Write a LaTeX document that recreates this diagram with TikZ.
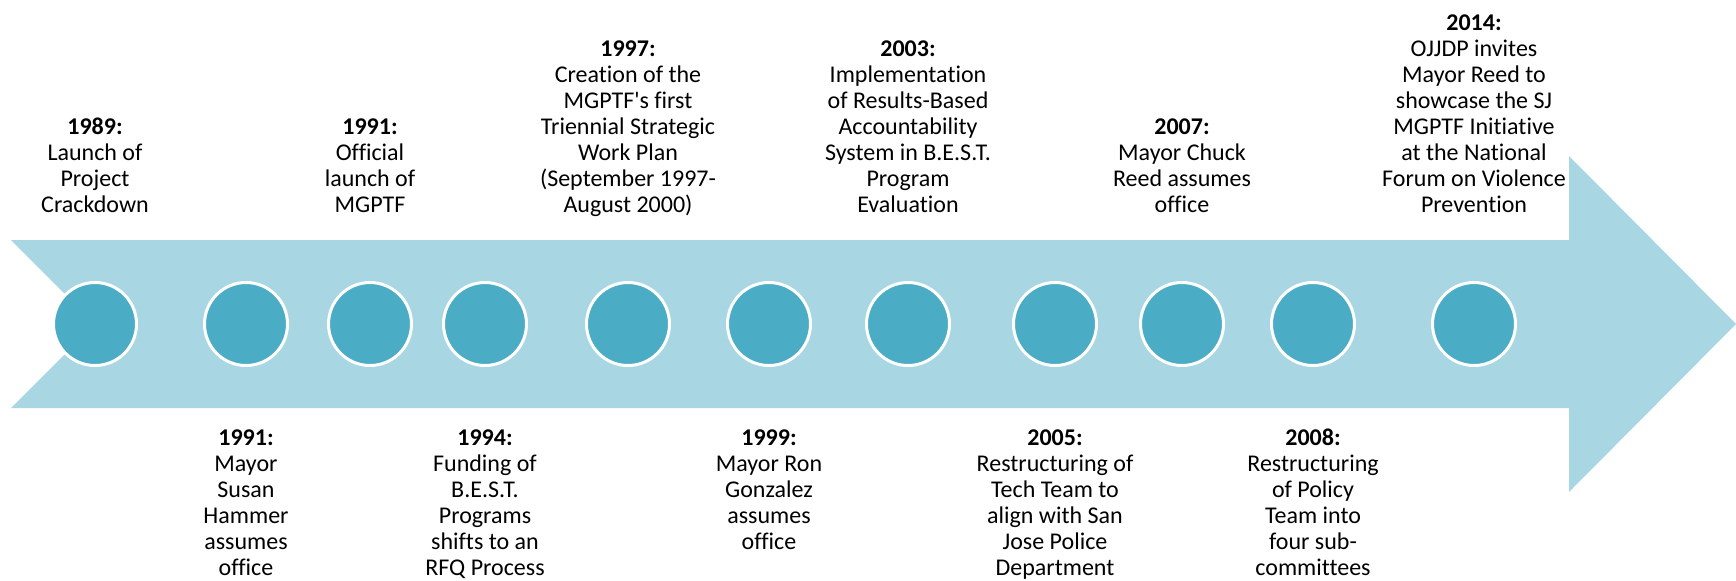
\documentclass[tikz,border=0pt]{standalone}
\usepackage{fontspec}
\setmainfont[Ligatures={TeX,NoCommon}]{Carlito}
\usepackage{xcolor}
\definecolor{arrowblue}{HTML}{A8D6E3}
\definecolor{dotblue}{HTML}{4BACC6}
\tikzset{
  dot/.style={circle,fill=dotblue,draw=white,line width=1.5pt,minimum size=41.5pt,inner sep=0pt},
  evtext/.style={align=center,inner sep=0pt,font=\fontsize{12}{13}\selectfont},
}
\newcommand{\yeardot}[2]{\node[dot] (#1) at (#2,324) {};}
\newcommand{\evtop}[4]{\node[evtext,anchor=north] (#1) at (#2,#3) {#4};}
\newcommand{\evbot}[3]{\node[evtext,anchor=north] (#1) at (#2,429) {#3};}

\begin{document}
\begin{tikzpicture}[x=0.5pt,y=-0.5pt]
	\useasboundingbox (0,0) rectangle (1736,580);
	% timeline arrow
	\fill[arrowblue] (11,240) -- (1569,240) -- (1569,156) -- (1736,324)
	  -- (1569,492) -- (1569,408) -- (11,408) -- (95,324) -- cycle;
	% one dot per event
	\yeardot{d1}{95} \yeardot{d2}{246} \yeardot{d3}{370} \yeardot{d4}{485}
	\yeardot{d5}{628} \yeardot{d6}{769} \yeardot{d7}{908} \yeardot{d8}{1055}
	\yeardot{d9}{1182} \yeardot{d10}{1313} \yeardot{d11}{1474}
	% events above the arrow
	\evtop{e1989}{95}{118}{\textbf{1989:}\\Launch of\\Project\\Crackdown}
	\evtop{e1991a}{370}{118}{\textbf{1991:}\\Official\\launch of\\MGPTF}
	\evtop{e1997}{628}{40}{\textbf{1997:}\\Creation of the\\MGPTF\textquotesingle s first\\Triennial Strategic\\Work Plan\\(September 1997-\\August 2000)}
	\evtop{e2003}{908}{40}{\textbf{2003:}\\Implementation\\of Results-Based\\Accountability\\System in B.E.S.T.\\Program\\Evaluation}
	\evtop{e2007}{1182}{118}{\textbf{2007:}\\Mayor Chuck\\Reed assumes\\office}
	\evtop{e2014}{1474}{14}{\textbf{2014:}\\OJJDP invites\\Mayor Reed to\\showcase the SJ\\MGPTF Initiative\\at the National\\Forum on Violence\\Prevention}
	% events below the arrow
	\evbot{e1991b}{246}{\textbf{1991:}\\Mayor\\Susan\\Hammer\\assumes\\office}
	\evbot{e1994}{485}{\textbf{1994:}\\Funding of\\B.E.S.T.\\Programs\\shifts to an\\RFQ Process}
	\evbot{e1999}{769}{\textbf{1999:}\\Mayor Ron\\Gonzalez\\assumes\\office}
	\evbot{e2005}{1055}{\textbf{2005:}\\Restructuring of\\Tech Team to\\align with San\\Jose Police\\Department}
	\evbot{e2008}{1313}{\textbf{2008:}\\Restructuring\\of Policy\\Team into\\four sub-\\committees}
\end{tikzpicture}
\end{document}
